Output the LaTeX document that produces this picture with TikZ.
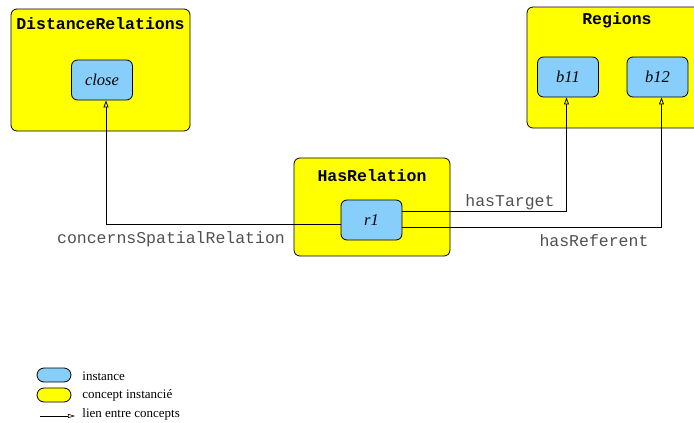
\documentclass[tikz,border=0pt]{standalone}
\usepackage{fontspec}
\setmainfont{Liberation Serif}
\setmonofont{Liberation Mono}
\usetikzlibrary{arrows.meta, positioning}
\definecolor{instblue}{RGB}{135, 206, 250}
\definecolor{conceptyellow}{RGB}{255, 255, 0}
\definecolor{linkgray}{RGB}{80, 80, 80}

\begin{document}
\begin{tikzpicture}[
    x=1pt, y=-1pt,
    line width=0.8pt,
    concept/.style={draw, fill=conceptyellow, rounded corners=6pt, minimum width=#1},
    concept/.default=180pt,
    instance/.style={draw, fill=instblue, rounded corners=6pt,
        minimum width=61pt, minimum height=40pt, font=\fontsize{16.5}{18}\selectfont\itshape},
    title/.style={font=\fontsize{16.5}{18}\selectfont\ttfamily\bfseries, inner sep=0pt},
    rel/.style={font=\fontsize{16.5}{18}\selectfont\ttfamily, text=linkgray, inner sep=0pt},
    legend/.style={font=\fontsize{13}{14}\selectfont, anchor=west, inner sep=0pt},
    pill/.style={draw, fill=#1, rounded corners=7pt, minimum width=34pt, minimum height=14pt, inner sep=0pt},
    % Style for the links between concepts
    link/.style={-{Triangle[open, length=7pt, width=5pt]}}
]
    \useasboundingbox (0,0) rectangle (694,423);

    % Concepts
    \node[concept=179pt, minimum height=122pt] (dist) at (100.5, 70) {};
    \node[concept=180pt, minimum height=121pt] (regions) at (617, 67.5) {};
    \node[concept=156pt, minimum height=98pt] (hasrel) at (372, 207) {};

    % Titles
    \node[title] at ([yshift=-15pt]dist.north) {DistanceRelations};
    \node[title] at ([yshift=-14pt]regions.north) {Regions};
    \node[title] at ([yshift=-18pt]hasrel.north) {HasRelation};

    % Instances
    \node[instance] (close) at (102, 80) {close};
    \node[instance] (b11) at (568, 77) {b11};
    \node[instance] (b12) at (657.5, 77) {b12};
    \node[instance] (r1) at (371.5, 220) {r1};

    % Links
    \draw[link] ([yshift=-4pt]r1.west) -| ([xshift=4pt]close.south);
    \draw[link] ([yshift=9pt]r1.east) -| ([xshift=-1.5pt]b11.south);
    \draw[link] ([yshift=-7pt]r1.east) -| ([xshift=4pt]b12.south);

    \node[rel] at (171, 239) {concernsSpatialRelation};
    \node[rel] at (510, 202) {hasTarget};
    \node[rel] at (594, 241) {hasReferent};

    % Legend
    \node[pill=instblue] (leginst) at (54, 375) {};
    \node[pill=conceptyellow] (legconc) at (54, 395) {};
    \coordinate (legA) at (40, 416);
    \coordinate (legB) at (75, 416);
    \draw[line width=0.6pt, -{Triangle[open, length=7pt, width=4pt]}] (legA) -- (legB);
    \node[legend] at (82, 376) {instance};
    \node[legend] at (82, 395) {concept instancié};
    \node[legend] at (82, 414) {lien entre concepts};

\end{tikzpicture}
\end{document}
